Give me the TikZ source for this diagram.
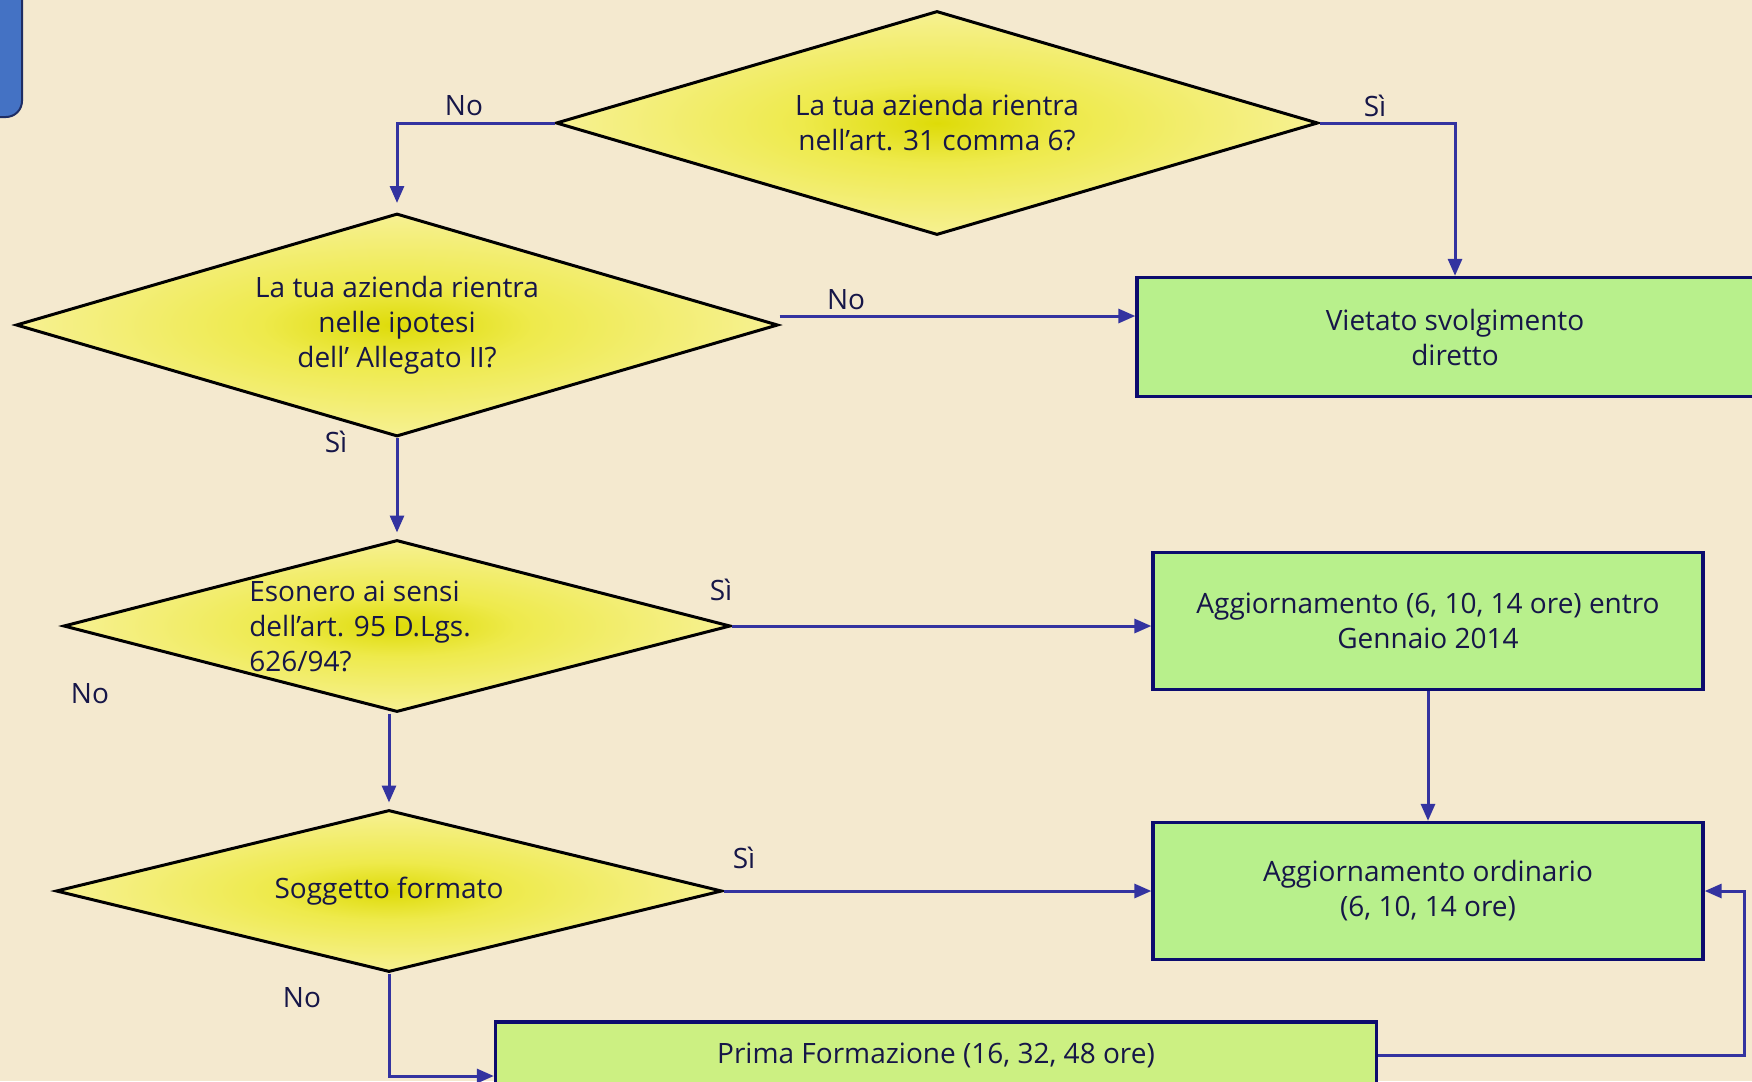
\documentclass[tikz,border=0pt]{standalone}
\usepackage{fontspec}
\setmainfont{Open Sans}
\usetikzlibrary{shapes.geometric, arrows.meta}
\definecolor{Parch}{RGB}{244,233,207}
\definecolor{FlowBlue}{RGB}{51,51,160}
\definecolor{InkNavy}{RGB}{22,22,72}
\definecolor{BoxGreen}{RGB}{184,240,140}
\definecolor{BoxLime}{RGB}{204,240,130}
\definecolor{BoxEdge}{RGB}{12,12,110}
\definecolor{TabBlue}{RGB}{68,114,196}
\definecolor{TabEdge}{RGB}{30,45,100}
\definecolor{DiaCore}{RGB}{222,219,8}
\definecolor{DiaMid}{RGB}{238,234,76}
\definecolor{DiaEdge}{RGB}{248,242,160}
\pgfdeclareradialshading{diashade}{\pgfpoint{0bp}{0bp}}{color(0bp)=(DiaCore); color(9bp)=(DiaMid); color(28bp)=(DiaEdge); color(100bp)=(DiaEdge)}

\begin{document}
\begin{tikzpicture}[x=1pt, y=-1pt,
          dia/.style={diamond, draw=black, line width=3pt, shading=diashade,
                      inner sep=0pt, align=center, text=InkNavy},
          box/.style={rectangle, draw=BoxEdge, line width=3.3pt, fill=BoxGreen,
                      inner sep=0pt, align=center, text=InkNavy},
          lbl/.style={text=InkNavy, inner sep=0pt},
          link/.style={-{Triangle[length=17pt, width=14pt]}, FlowBlue, line width=3pt},
          font=\fontsize{28}{35}\selectfont
        ]
        \useasboundingbox (0,0) rectangle (1752,1081);
        \clip (0,0) rectangle (1752,1081);
        \fill[Parch] (0,0) rectangle (1752,1081);
        \draw[fill=TabBlue, draw=TabEdge, line width=2pt, rounded corners=16pt]
              (-40,-40) rectangle (22,117);

        % questions
        \node[dia, aspect=3.40, minimum width=762pt, minimum height=224pt] (d1) at (937,123)
              {La tua azienda rientra\\nell’art. 31 comma 6?};
        \node[dia, aspect=3.42, minimum width=762pt, minimum height=223pt] (d2) at (397,325)
              {La tua azienda rientra\\nelle ipotesi\\dell’ Allegato II?};
        \node[dia, aspect=3.88, minimum width=667pt, minimum height=172pt] (d3) at (397,626) {};
        \node[lbl, align=left] (d3txt) at (360,626)
              {Esonero ai sensi\\dell’art. 95 D.Lgs.\\626/94?};
        \node[dia, aspect=4.11, minimum width=666pt, minimum height=162pt] (d4) at (389,891)
              {Soggetto formato};

        % outcomes
        \node[box, minimum width=636pt, minimum height=119pt] (vb) at (1455,337)
              {Vietato svolgimento\\diretto};
        \node[box, minimum width=550pt, minimum height=137pt] (a1) at (1428,621)
              {Aggiornamento (6, 10, 14 ore) entro\\Gennaio 2014};
        \node[box, minimum width=550pt, minimum height=137pt] (a2) at (1428,891)
              {Aggiornamento ordinario\\(6, 10, 14 ore)};
        \node[box, fill=BoxLime, minimum width=881pt, minimum height=66pt] (pb) at (936,1055)
              {Prima Formazione (16, 32, 48 ore)};
        \coordinate (loop) at (1744,891);

        \draw[link, shorten >=9pt] (d1.west) -| (d2.north);
        \draw[link] (d1.east) -| (vb.north);
        \draw[link] ([yshift=9pt]d2.east) -- ([yshift=9pt]d2.east -| vb.west);
        \draw[link, shorten >=6pt] (d2.south) -- (d3.north);
        \draw[link] (d3.east) -- (d3.east -| a1.west);
        \draw[link, shorten >=6pt] (d4.north |- d3.south) -- (d4.north);
        \draw[link] (a1.south) -- (a2.north);
        \draw[link] (d4.east) -- (a2.west);
        \draw[link] (d4.south) |- ([yshift=-21pt]pb.west);
        \draw[link] (pb.east) -| (loop) -- (a2.east);

        \node[lbl] (no1) at (464,106) {No};
        \node[lbl] (si1) at (1375,106) {Sì};
        \node[lbl] (no2) at (846,300) {No};
        \node[lbl] (si2) at (336,442) {Sì};
        \node[lbl] (si3) at (721,590) {Sì};
        \node[lbl] (no3) at (90,694) {No};
        \node[lbl] (si4) at (744,858) {Sì};
        \node[lbl] (no4) at (302,998) {No};
      \end{tikzpicture}
\end{document}
